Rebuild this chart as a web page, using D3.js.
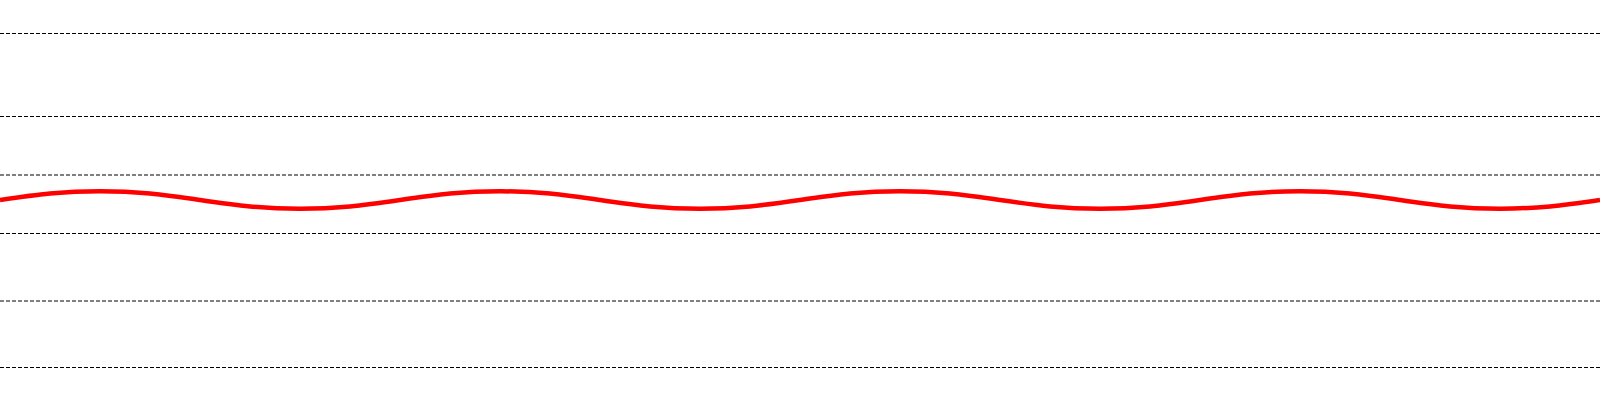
<!DOCTYPE html>
<html>
<head>
<meta charset="utf-8">
<script src="https://cdn.jsdelivr.net/npm/d3@7"></script>
<style>
  html, body { margin: 0; padding: 0; background: #fff; overflow: hidden; }
  svg { display: block; }
</style>
</head>
<body>
<svg id="chart" width="1600" height="400"></svg>
<script>
// Horizontal dashed reference lines (vertical position values)
const gridValues = [33.5, 116.5, 175, 233.5, 301, 367.5];

// Wave sample positions
const waveX = [0, 50, 100, 150, 200, 250, 300, 350, 400, 450, 500, 550, 600, 650, 700, 750, 800,
               850, 900, 950, 1000, 1050, 1100, 1150, 1200, 1250, 1300, 1350, 1400, 1450, 1500, 1550, 1600];
const waveY = [200, 193.6, 191.3, 193.6, 200, 206.4, 208.7, 206.4,
               200, 193.6, 191.3, 193.6, 200, 206.4, 208.7, 206.4,
               200, 193.6, 191.3, 193.6, 200, 206.4, 208.7, 206.4,
               200, 193.6, 191.3, 193.6, 200, 206.4, 208.7, 206.4, 200];

const W = 1600, H = 400;
const svg = d3.select("#chart");
const x = d3.scaleLinear().domain([0, 1600]).range([0, W]);
const y = d3.scaleLinear().domain([0, 400]).range([0, H]);

svg.append("g")
  .selectAll("line")
  .data(gridValues)
  .join("line")
  .attr("x1", 0)
  .attr("x2", W)
  .attr("y1", d => y(d))
  .attr("y2", d => y(d))
  .attr("stroke", "#000")
  .attr("stroke-width", 1)
  .attr("stroke-dasharray", "4,2");

const pts = waveX.map((v, i) => [v, waveY[i]]);

svg.append("path")
  .datum(pts)
  .attr("fill", "none")
  .attr("stroke", "#ff0000")
  .attr("stroke-width", 4.5)
  .attr("d", d3.line().x(d => x(d[0])).y(d => y(d[1])).curve(d3.curveNatural));
</script>
</body>
</html>
